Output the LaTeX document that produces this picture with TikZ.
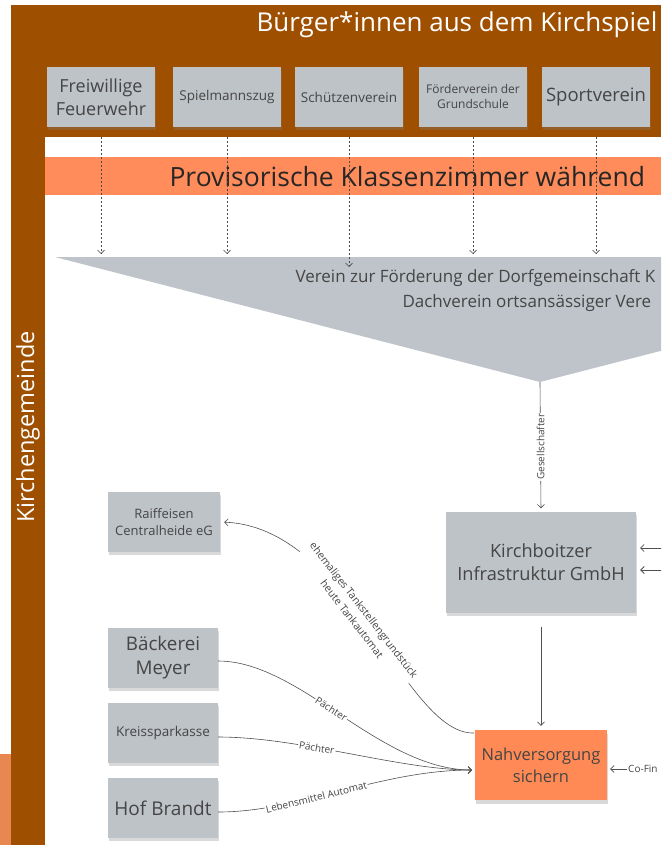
\documentclass[tikz,border=0pt]{standalone}
\usepackage{fontspec}
\setmainfont{Open Sans}
\usetikzlibrary{arrows.meta,shadows}
\definecolor{brownbar}{HTML}{9E5000}
\definecolor{banner}{HTML}{FF8C5A}
\definecolor{orangebox}{HTML}{FF8A55}
\definecolor{patch}{HTML}{E8874F}
\definecolor{notegray}{HTML}{BEC3C8}
\definecolor{trigray}{HTML}{BEC4C9}
\definecolor{txt}{HTML}{454545}
\definecolor{linec}{HTML}{505050}
\newcommand{\fsz}[2]{\fontsize{#1}{#2}\selectfont}
\tikzset{
  note/.style={fill=notegray, minimum width=108pt, minimum height=60pt, align=center, text=txt, inner sep=2pt,
    drop shadow={shadow xshift=1pt, shadow yshift=-3pt, opacity=0.3}},
  conn/.style={draw=linec, line width=0.6pt},
  tip/.style={-{Straight Barb[length=3.5pt,width=7pt]}},
  elabel/.style={font=\fsz{10}{12}, text=txt, fill=white, inner sep=1pt},
  dashconn/.style={draw=linec!90!black, dash pattern=on 2pt off 2pt, line width=0.6pt},
}
\begin{document}
\begin{tikzpicture}[x=1pt,y=-1pt]
\useasboundingbox (0,0) rectangle (661,845);
\clip (0,0) rectangle (661,845);
% background bars
\fill[brownbar] (11,5) rectangle (661,137);
\fill[brownbar] (11,5) rectangle (45,845);
\fill[patch] (0,754) rectangle (11,845);
\node[rotate=90, text=white, font=\fsz{23.5}{28}] (kg) at (28,427) {Kirchengemeinde};
\node[anchor=west, text=white, font=\fsz{26}{30}] (title) at (253,25) {Bürger*innen aus dem Kirchspiel};
% banner
\fill[banner] (45,157) rectangle (661,195);
\node[anchor=west, text=black!85, font=\fsz{26.5}{30}] (bannertxt) at (166,177) {Provisorische Klassenzimmer während};
% notes
\node[note, font=\fsz{18}{23}] (ff) at (101,97) {Freiwillige\\Feuerwehr};
\node[note, font=\fsz{13.5}{16}] (sz) at (227,97) {Spielmannszug};
\node[note, font=\fsz{13.5}{16}] (sv) at (349,97) {Schützenverein};
\node[note, font=\fsz{12}{15}] (fv) at (473,97) {Förderverein der\\Grundschule};
\node[note, font=\fsz{18.5}{22}] (sp) at (596,97) {Sportverein};
% triangle
\fill[trigray] (55,257) -- (1025,257) -- (540,382) -- cycle;
\coordinate (apex) at (540,382);
\coordinate (t1) at (101,254);
\coordinate (t2) at (227,254);
\coordinate (t3) at (349,267);
\coordinate (t4) at (473,254);
\coordinate (t5) at (596,254);
\node[anchor=west, text=txt, font=\fsz{17}{20}] (tri1) at (292,278) {Verein zur Förderung der Dorfgemeinschaft K};
\node[anchor=west, text=txt, font=\fsz{17}{20}] (tri2) at (399,303) {Dachverein ortsansässiger Vere};
% dashed connectors
\foreach \n/\t in {ff/t1, sz/t2, sv/t3, fv/t4, sp/t5}
  \draw[dashconn, tip, shorten <=10pt] (\n.south |- 0,127) -- (\t);
% GmbH
\node[note, minimum width=190pt, minimum height=101pt, font=\fsz{18.2}{23}] (gmbh) at (541,562) {Kirchboitzer\\Infrastruktur GmbH};
\draw[conn, tip, shorten >=3pt] (apex) -- node[elabel, rotate=90] {Gesellschafter} (gmbh.north);
\coordinate (r1) at (663,548);
\coordinate (r2) at (663,570);
\draw[conn, tip, shorten >=4pt] (r1) -- (gmbh.east |- r1);
\draw[conn, line width=0.9pt, tip, shorten >=4pt] (r2) -- (gmbh.east |- r2);
% Nahversorgung
\node[fill=orangebox, minimum width=132pt, minimum height=70pt, align=center, text=txt, font=\fsz{16.5}{22},
  drop shadow={shadow xshift=1pt, shadow yshift=-4pt, opacity=0.3}] (nah) at (541,765) {Nahversorgung\\sichern};
\draw[conn, tip, shorten <=14pt, shorten >=4pt] (gmbh.south) -- (nah.north);
\node[anchor=west, text=txt, font=\fsz{10}{12}, inner sep=1pt] (cofin) at (627,769) {Co-Fin};
\draw[conn, tip, shorten >=3pt] (cofin.west) -- (nah.east |- cofin.west);
% left boxes
\node[note, minimum width=112pt, font=\fsz{13}{17}] (raif) at (164,522) {Raiffeisen\\Centralheide eG};
\node[note, minimum width=110pt, font=\fsz{18.8}{24}] (bm) at (163,658) {Bäckerei\\Meyer};
\node[note, minimum width=110pt, font=\fsz{13.5}{16}] (ks) at (163,733) {Kreissparkasse};
\node[note, minimum width=110pt, font=\fsz{19}{22}] (hb) at (163,808) {Hof Brandt};
% curves
\coordinate (ntl) at (474,733);
\coordinate (nin) at (472,770);
\draw[conn, tip, shorten >=4pt] (ntl) .. controls (405,735) and (350,527) .. (raif.east)
  node[pos=0.55, sloped, elabel, align=center, font=\fsz{10.5}{15}] {ehemaliges Tankstellengrundstück\\heute Tankautomat};
\draw[conn, tip] ([yshift=-3pt]bm.east) .. controls (300,661) and (380,770) .. (nin)
  node[pos=0.46, sloped, elabel] {Pächter};
\draw[conn, tip] ([yshift=-4pt]ks.east) .. controls (300,737) and (400,770) .. (nin)
  node[pos=0.38, sloped, elabel] {Pächter};
\draw[conn, tip] ([yshift=-4pt]hb.east) .. controls (300,812) and (380,770) .. (nin)
  node[pos=0.4, sloped, elabel] {Lebensmittel Automat};
\end{tikzpicture}
\end{document}
